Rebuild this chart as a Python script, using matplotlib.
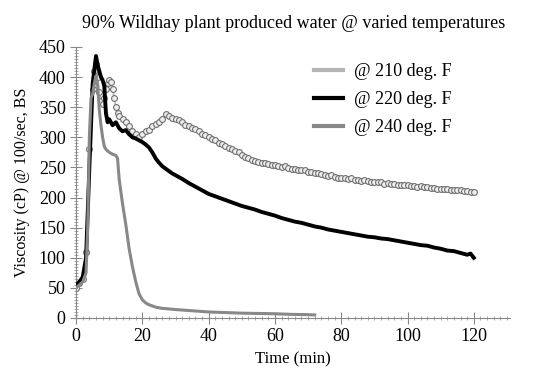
import matplotlib
matplotlib.use("Agg")
import matplotlib.pyplot as plt
from matplotlib.lines import Line2D
from matplotlib.ticker import MultipleLocator

# 데이터 : 시간(min) / 점도(cP)
t210 = [0, 1, 2, 3, 4, 5, 5.5, 6, 6.5, 7, 7.5, 8, 8.5, 9, 9.5, 10, 10.5, 11, 11.5, 12,
        12.5, 13, 14, 15, 16, 17, 18, 19, 20, 21, 22, 23, 24, 25, 26, 27, 28, 29] + list(range(30, 121))
v210 = [50, 58, 65, 110, 280, 380, 410, 422, 400, 375, 360, 355, 365, 380, 390, 395, 392, 380, 365, 350,
        340, 335, 330, 325, 318, 310, 305, 300, 305, 310, 312, 318, 322, 326, 330, 338, 335, 332,
        331, 328, 326, 321, 319, 316, 313, 310, 306, 304, 300, 297, 295, 291, 289, 286, 283, 281, 277, 275,
        271, 268, 265, 263, 260, 259, 257, 258, 255, 254, 254, 252, 251, 252, 249, 248, 248, 246, 245, 245,
        243, 242, 241, 240, 239, 238, 236, 237, 234, 233, 233, 232, 231, 232, 229, 229, 228, 229, 227, 226,
        226, 225, 225, 223, 224, 222, 222, 221, 221, 220, 220, 219, 219, 218, 219, 217, 217, 216, 216, 215,
        215, 214, 214, 213, 213, 212, 212, 211, 211, 210, 209]

t220 = [0, 1, 2, 3, 4, 5, 6, 6.5, 7, 7.5, 8, 8.5, 9, 9.5, 10, 11, 12, 13, 14, 15, 16, 17, 18, 19, 20,
        21, 22, 23, 24, 25, 26, 27, 28, 29, 30, 32, 34, 36, 38, 40, 42, 44, 46, 48, 50, 52, 54, 56, 58,
        60, 62, 64, 66, 68, 70, 72, 74, 76, 78, 80, 82, 84, 86, 88, 90, 92, 94, 96, 98, 100, 102, 104,
        106, 108, 110, 112, 114, 116, 118, 119, 120]
v220 = [55, 60, 68, 100, 250, 390, 435, 420, 410, 400, 395, 385, 340, 325, 330, 320, 325, 315, 310, 312,
        305, 300, 298, 295, 292, 288, 283, 275, 265, 258, 252, 248, 244, 240, 237, 231, 224, 218, 212,
        206, 202, 198, 194, 190, 186, 183, 180, 176, 173, 170, 166, 163, 160, 158, 155, 152, 150, 147,
        145, 143, 141, 139, 137, 135, 134, 132, 131, 129, 127, 125, 123, 121, 120, 117, 115, 112, 111,
        108, 105, 107, 100]

t240 = [0, 1, 2, 3, 3.5, 4, 4.5, 5, 5.5, 6, 6.5, 7, 7.5, 8, 8.5, 9, 10, 11, 12, 12.5, 13, 14, 15, 16,
        17, 18, 19, 20, 21, 22, 24, 26, 28, 30, 35, 40, 45, 50, 55, 60, 65, 70, 72]
v240 = [50, 55, 60, 75, 150, 300, 365, 372, 390, 402, 385, 345, 320, 300, 285, 280, 275, 272, 270, 265,
        230, 190, 155, 115, 85, 60, 40, 30, 25, 22, 18, 16, 15, 14, 12, 10, 9, 8, 7.5, 7, 6, 5.5, 5]

labels = ['@ 210 deg. F', '@ 220 deg. F', '@ 240 deg. F']

plt.rcParams['font.family'] = ['Liberation Serif', 'DejaVu Serif']

fig = plt.figure(figsize=(5.36, 3.79), dpi=100)
ax = fig.add_axes([0.142, 0.161, 0.81, 0.715])

ax.plot(t210, v210, color='#b5b5b5', lw=1.2, marker='o', ms=4.2, mfc='#eeeeee',
        mec='#707070', mew=0.8, zorder=2)
ax.plot(t220, v220, color='black', lw=2.8, zorder=3)
ax.plot(t240, v240, color='#888888', lw=2.2, zorder=4)

ax.set_xlim(0, 131)
ax.set_ylim(0, 450)
ax.xaxis.set_major_locator(MultipleLocator(20))
ax.xaxis.set_minor_locator(MultipleLocator(2))
ax.yaxis.set_major_locator(MultipleLocator(50))
ax.yaxis.set_minor_locator(MultipleLocator(5))
for s in ['top', 'right']:
    ax.spines[s].set_visible(False)
for s in ['left', 'bottom']:
    ax.spines[s].set_color('#888888')
ax.tick_params(which='major', direction='inout', length=8, color='#888888', labelsize=13)
ax.tick_params(which='minor', direction='inout', length=3.5, color='#999999')

ax.set_title('90% Wildhay plant produced water @ varied temperatures', fontsize=13, x=0.5, y=1.04)
ax.set_xlabel('Time (min)', fontsize=12)
ax.set_ylabel('Viscosity (cP) @ 100/sec, BS', fontsize=11.5, labelpad=6)

handles = [Line2D([], [], color='#b5b5b5', lw=3),
           Line2D([], [], color='black', lw=3),
           Line2D([], [], color='#888888', lw=3)]
ax.legend(handles, labels, loc='upper left', bbox_to_anchor=(0.51, 1.0), frameon=False,
          fontsize=13, handlelength=1.6, handletextpad=0.6, labelspacing=0.6)

fig.savefig('out.png', dpi=100)
